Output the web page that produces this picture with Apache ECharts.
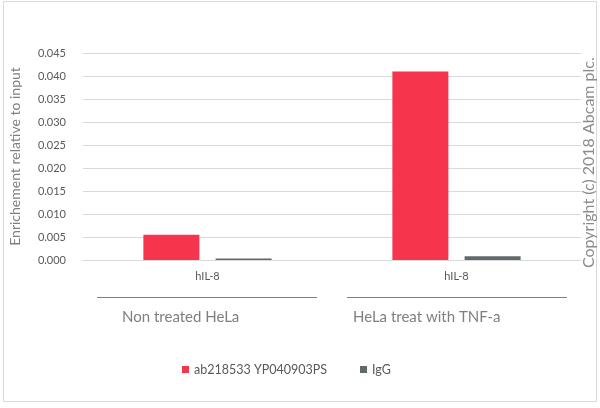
<!DOCTYPE html>
<html>
<head>
<meta charset="utf-8">
<script src="https://cdn.jsdelivr.net/npm/echarts@6/dist/echarts.min.js"></script>
<style>html,body{margin:0;padding:0;background:#fff}#c{width:600px;height:408px}</style>
</head>
<body>
<div id="c"></div>
<script>
var categories = ['hIL-8', 'hIL-8'];
var groupLabels = ['Non treated HeLa', 'HeLa treat with TNF-a'];
var seriesNames = ['ab218533 YP040903PS', 'IgG'];
var abValues = [0.0055, 0.0410];
var iggValues = [0.0003, 0.0008];
var yTicks = { min: 0, max: 0.045, interval: 0.005 };

var FONT = 'Lato, "Open Sans", sans-serif';
var chart = echarts.init(document.getElementById('c'), null, { renderer: 'canvas' });
chart.setOption({
  backgroundColor: '#fff',
  animation: false,
  textStyle: { fontFamily: FONT },
  grid: { left: 81, right: 19, top: 53, bottom: 148, containLabel: false },
  legend: {
    left: 177, top: 358,
    icon: 'rect', itemWidth: 7, itemHeight: 7, itemGap: 33,
    textStyle: { color: '#595959', fontSize: 12.5, fontFamily: FONT },
    data: seriesNames
  },
  xAxis: {
    type: 'category', data: categories,
    axisLine: { lineStyle: { color: '#d9d9d9' } },
    axisTick: { show: false },
    axisLabel: { color: '#595959', fontSize: 11, margin: 11, fontFamily: FONT }
  },
  yAxis: {
    type: 'value', min: yTicks.min, max: yTicks.max, interval: yTicks.interval,
    name: 'Enrichement relative to input', nameLocation: 'middle', nameGap: 61,
    nameTextStyle: { color: '#7f7f7f', fontSize: 14, fontFamily: FONT },
    axisLine: { show: false }, axisTick: { show: false },
    axisLabel: { color: '#595959', fontSize: 11, margin: 17, fontFamily: FONT,
      formatter: function (v) { return v.toFixed(3); } },
    splitLine: { lineStyle: { color: '#d9d9d9' } }
  },
  series: [
    { name: seriesNames[0], type: 'bar', data: abValues, barWidth: 56, barGap: '29%',
      itemStyle: { color: '#f4354b' } },
    { name: seriesNames[1], type: 'bar', data: iggValues, barWidth: 56,
      itemStyle: { color: '#5f6a6b' } }
  ],
  graphic: [
    { type: 'rect', shape: { x: 3.5, y: 1.5, width: 593, height: 400 },
      style: { fill: 'none', stroke: '#d9d9d9', lineWidth: 1 }, silent: true },
    { type: 'line', shape: { x1: 97, y1: 297.5, x2: 317, y2: 297.5 }, style: { stroke: '#7f7f7f', lineWidth: 1 } },
    { type: 'line', shape: { x1: 347, y1: 297.5, x2: 567, y2: 297.5 }, style: { stroke: '#7f7f7f', lineWidth: 1 } },
    { type: 'text', x: 122, y: 310, style: { text: groupLabels[0], fill: '#7f7f7f', font: '15px ' + FONT } },
    { type: 'text', x: 353, y: 310, style: { text: groupLabels[1], fill: '#7f7f7f', font: '15px ' + FONT } },
    { type: 'text', x: 581, y: 268, rotation: Math.PI / 2, originX: 0, originY: 0,
      style: { text: 'Copyright (c) 2018 Abcam plc.', fill: '#8c8c8c', font: '16px ' + FONT } }
  ]
});
</script>
</body>
</html>
